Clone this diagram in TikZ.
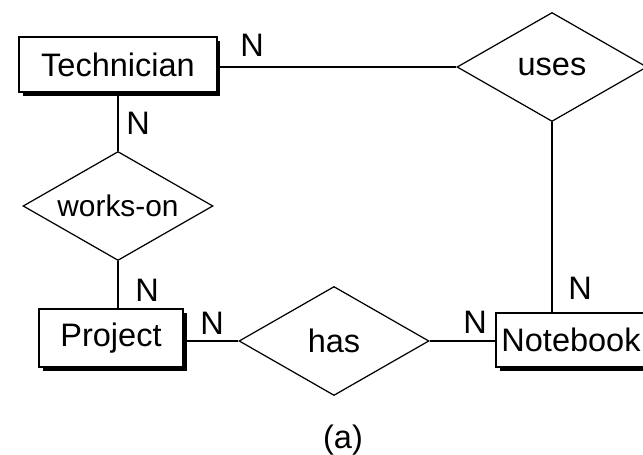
\documentclass[tikz,border=0pt]{standalone}
\usepackage{fontspec}
\setmainfont{Liberation Sans}
\usetikzlibrary{shapes.geometric,shadows}

\begin{document}
\begin{tikzpicture}[
  x=0.02cm, y=-0.02cm,
  every node/.style={font=\fontsize{18.5}{21}\selectfont, inner sep=0pt},
  entity/.style={rectangle, draw, line width=0.7pt, fill=white, minimum height=1.1cm,
    drop shadow={shadow xshift=2pt, shadow yshift=-2pt, fill=black, opacity=1}},
  relation/.style={diamond, draw, line width=0.7pt, fill=white, aspect=1.75,
    minimum width=3.8cm, minimum height=2.18cm},
  link/.style={draw, line width=0.75pt}
]
  \useasboundingbox (0,0) rectangle (643,455);

  % Entities
  \node[entity, minimum width=3.96cm] (tech) at (118,64.5) {Technician};
  \node[entity, minimum width=2.88cm, minimum height=1.16cm] (proj) at (111,338) {Project};
  \node[entity, minimum width=3.0cm, minimum height=1.08cm] (note) at (571,340) {Notebook};

  % Relationships
  \node[relation] (uses) at (552,67) {uses};
  \node[relation, font=\fontsize{17}{20}\selectfont] (works) at (118,206) {works-on};
  \node[relation] (has) at (334,341) {has};

  % Connections
  \draw[link] (tech.east |- uses.west) -- (uses.west);
  \draw[link] (tech.south) -- (works.north);
  \draw[link] (works.south) -- (works.south |- proj.north);
  \draw[link] (proj.east |- has.west) -- (has.west);
  \draw[link] (has.east) -- (has.east -| note.west);
  \draw[link] (uses.south) -- (uses.south |- note.north);

  % Cardinalities
  \node (n1) at (252,45) {N};
  \node (n2) at (138,123) {N};
  \node (n3) at (147,290) {N};
  \node (n4) at (212,323) {N};
  \node (n5) at (475,322) {N};
  \node (n6) at (580,288) {N};

  % Caption
  \node (cap) at (343,440) {(a)};
\end{tikzpicture}
\end{document}
